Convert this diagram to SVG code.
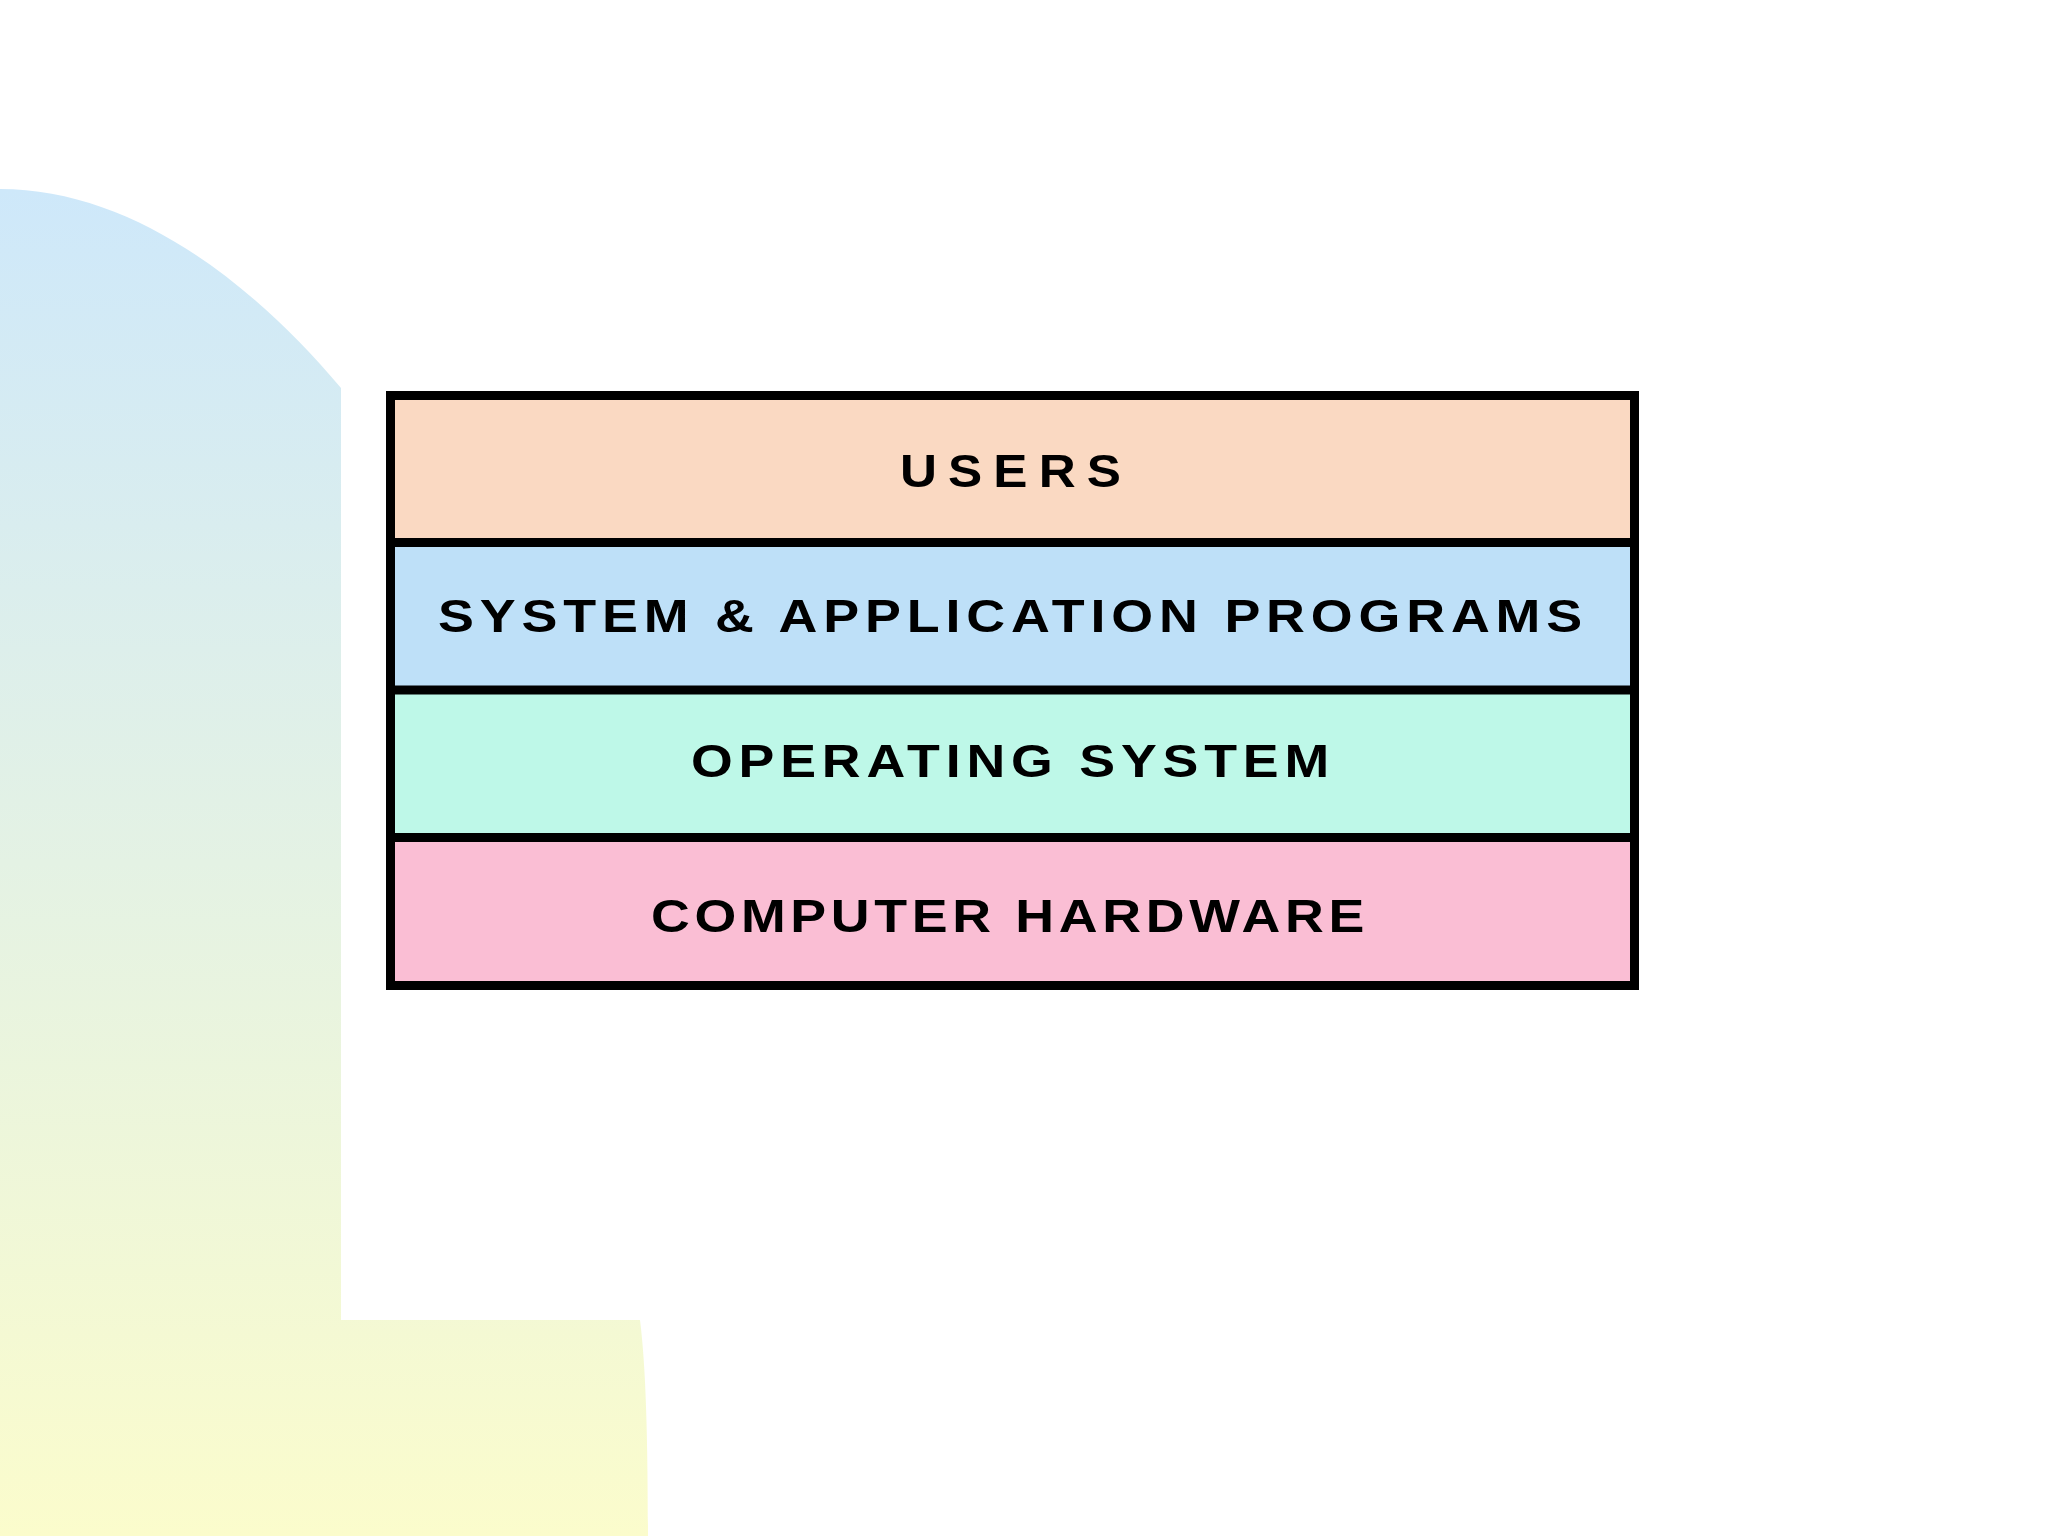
<svg xmlns="http://www.w3.org/2000/svg" width="2048" height="1536" viewBox="0 0 2048 1536">
  <defs>
    <linearGradient id="bg" gradientUnits="userSpaceOnUse" x1="0" y1="189" x2="0" y2="1536">
      <stop offset="0" stop-color="#CEE8FA"/>
      <stop offset="0.5" stop-color="#E4F2E4"/>
      <stop offset="1" stop-color="#FBFCCC"/>
    </linearGradient>
    <style>
      .lbl { font-family: "Liberation Sans", Arial, sans-serif; font-weight: bold; font-size: 46px; fill: #000; }
      .band { stroke: none; }
      .div { stroke: #000; stroke-width: 9; }
    </style>
  </defs>
  <rect x="0" y="0" width="2048" height="1536" fill="#FFFFFF"/>
  <path d="M0,189 C130,189 250,280 341,388 L341,1320 L640,1320 C645,1360 648,1420 648,1536 L0,1536 Z" fill="url(#bg)"/>

  <g id="users">
    <rect class="band" x="390" y="395" width="1245" height="148" fill="#FAD9C2"/>
    <text class="lbl" x="900" y="487" letter-spacing="10" textLength="232" lengthAdjust="spacingAndGlyphs">USERS</text>
  </g>
  <g id="programs">
    <rect class="band" x="390" y="543" width="1245" height="147" fill="#BEE0F8"/>
    <text class="lbl" x="438" y="632" letter-spacing="5" textLength="1150" lengthAdjust="spacingAndGlyphs">SYSTEM &amp; APPLICATION PROGRAMS</text>
  </g>
  <g id="os">
    <rect class="band" x="390" y="690" width="1245" height="148" fill="#BEF8E8"/>
    <text class="lbl" x="691" y="777" letter-spacing="5" textLength="644" lengthAdjust="spacingAndGlyphs">OPERATING SYSTEM</text>
  </g>
  <g id="hardware">
    <rect class="band" x="390" y="838" width="1245" height="148" fill="#FABED4"/>
    <text class="lbl" x="651" y="932" letter-spacing="4" textLength="718" lengthAdjust="spacingAndGlyphs">COMPUTER HARDWARE</text>
  </g>

  <g id="connectors">
    <rect x="390.5" y="395.5" width="1244" height="590" fill="none" stroke="#000" stroke-width="9"/>
    <line class="div" x1="390" y1="542.5" x2="1635" y2="542.5"/>
    <line class="div" x1="390" y1="690" x2="1635" y2="690"/>
    <line class="div" x1="390" y1="837.5" x2="1635" y2="837.5"/>
  </g>
</svg>
